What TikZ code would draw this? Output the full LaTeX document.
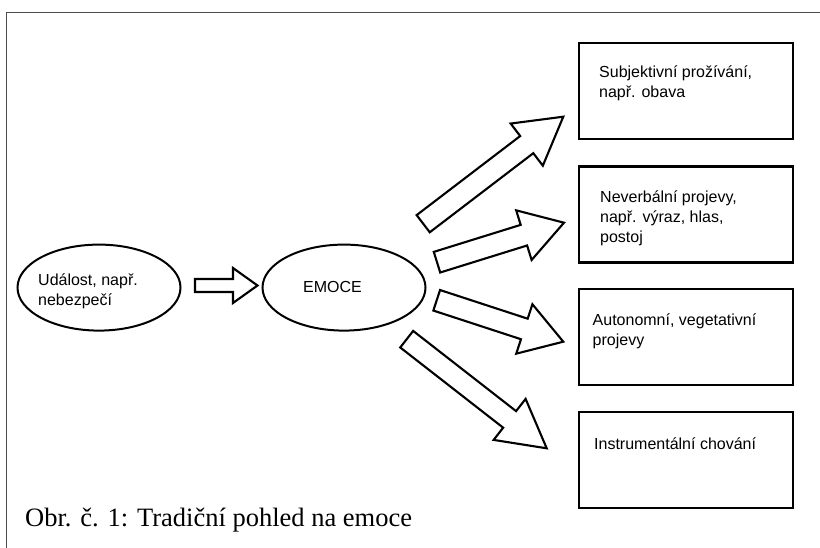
\documentclass[tikz,border=0pt]{standalone}
\usepackage{fontspec}
\setmainfont{Liberation Serif}
\newfontfamily\arialf{Liberation Sans}
\usetikzlibrary{calc,shapes.geometric}
\tikzset{
  frameline/.style={draw=black!70, line width=1.5pt},
  boxn/.style={draw, line width=2.4pt, minimum width=214pt, minimum height=96pt, inner sep=0pt},
  elln/.style={draw, ellipse, line width=2pt, minimum width=163pt, minimum height=86pt, inner sep=0pt},
  lbl/.style={font=\arialf\fontsize{16}{20}\selectfont, align=left, anchor=north west, inner sep=0pt},
  barrow/.style={draw, line width=2.1pt, fill=white, line join=miter},
}
\newcommand\blkarrow[5]{%
  \coordinate (bj) at ($(#2)!#5!(#1)$);
  \draw[barrow] ($(#1)!#3!90:(#2)$) -- ($(bj)!#3!90:(#2)$) -- ($(bj)!#4!90:(#2)$) -- (#2)
    -- ($(bj)!#4!-90:(#2)$) -- ($(bj)!#3!-90:(#2)$) -- ($(#1)!#3!-90:(#2)$) -- cycle;}
\begin{document}
\begin{tikzpicture}[x=1pt,y=-1pt]
\useasboundingbox (0,0) rectangle (820,548);
\draw[frameline] (6.7,548) -- (6.7,12.7) -- (820,12.7);

% ellipses
\node[elln] (ev) at (99,287.6) {};
\node[elln] (emo) at (344,287.6) {};
\node[lbl] (evt) at (38,270) {\rule{0pt}{15pt}Událost, např.\\nebezpečí};
\node[lbl] (emot) at (303,277) {\rule{0pt}{15pt}EMOCE};

% boxes
\node[boxn] (b1) at (686,91) {};
\node[boxn] (b2) at (686,214.5) {};
\node[boxn] (b3) at (686,337) {};
\node[boxn] (b4) at (686,460) {};
\node[lbl] (t1) at (599,62.5) {\rule{0pt}{15pt}Subjektivní prožívání,\\např. obava};
\node[lbl] (t2) at (600,187) {\rule{0pt}{15pt}Neverbální projevy,\\např. výraz, hlas,\\postoj};
\node[lbl] (t3) at (592.5,310) {\rule{0pt}{15pt}Autonomní, vegetativní\\projevy};
\node[lbl] (t4) at (594,434) {\rule{0pt}{15pt}Instrumentální chování};

% arrow end points
\coordinate (h0t) at (195,285.5);
\coordinate (h0p) at (257.5,285.5);
\coordinate (a1t) at (423.2,223.7);
\coordinate (a1p) at (563.3,116.7);
\coordinate (a2t) at (437,262.2);
\coordinate (a2p) at (564,222.7);
\coordinate (a3t) at (436.7,300.3);
\coordinate (a3p) at (563.3,341.7);
\coordinate (a4t) at (406.7,339.2);
\coordinate (a4p) at (546.7,448.3);

\blkarrow{h0t}{h0p}{6.5pt}{17.5pt}{24.5pt}
\blkarrow{a1t}{a1p}{10.8pt}{26.5pt}{46pt}
\blkarrow{a2t}{a2p}{10.8pt}{26pt}{42pt}
\blkarrow{a3t}{a3p}{10.8pt}{26pt}{41pt}
\blkarrow{a4t}{a4p}{10.5pt}{26pt}{47pt}

% caption
\node[font=\fontsize{26.5}{30}\selectfont, anchor=base west, inner sep=0pt] (cap) at (25,526) {Obr. č. 1: Tradiční pohled na emoce};
\end{tikzpicture}
\end{document}
